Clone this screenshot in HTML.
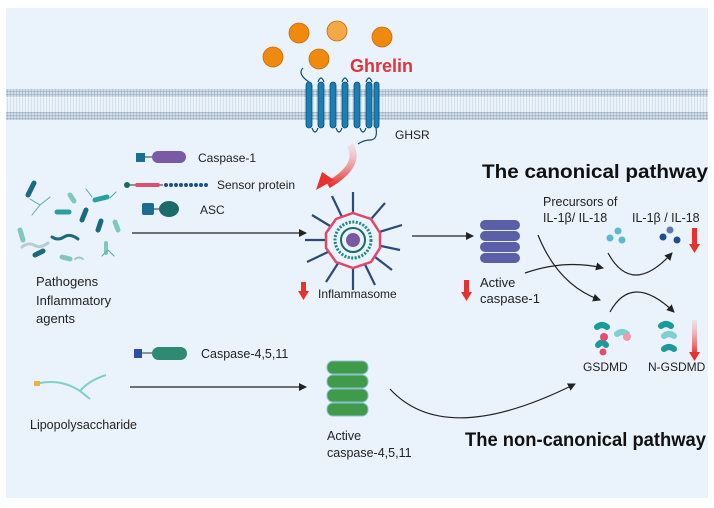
<!DOCTYPE html>
<html><head><meta charset="utf-8"><style>
html,body{margin:0;padding:0;background:#fff;}
svg{display:block;font-family:"Liberation Sans",sans-serif;}
</style></head><body>
<svg width="714" height="508" viewBox="0 0 714 508">
<defs>
<marker id="ah" markerWidth="8" markerHeight="8" refX="7" refY="4" orient="auto" markerUnits="userSpaceOnUse"><path d="M0,0 L8,4 L0,8 z" fill="#222"/></marker>
<linearGradient id="rg" x1="0" y1="0" x2="0" y2="1"><stop offset="0" stop-color="#f5b8b8" stop-opacity="0.3"/><stop offset="1" stop-color="#e8322f"/></linearGradient>
<pattern id="dots" width="3" height="3" patternUnits="userSpaceOnUse"><circle cx="1.5" cy="1.5" r="1.3" fill="#9fb1c4"/></pattern>
<pattern id="tails" width="3" height="10" patternUnits="userSpaceOnUse"><rect x="1" y="0" width="1" height="10" fill="#d4dfea"/></pattern>
</defs>
<rect x="6" y="8" width="702" height="490" fill="#eaf2fb"/>
<rect x="6" y="98" width="702" height="14" fill="url(#tails)"/>
<rect x="6" y="89" width="702" height="8" fill="url(#dots)"/>
<rect x="6" y="112" width="702" height="8" fill="url(#dots)"/>
<g fill="#ef8a0f" stroke="#c66e06" stroke-width="0.8">
<circle cx="299" cy="33" r="10"/><circle cx="337" cy="31" r="10" fill="#f2a946"/><circle cx="382" cy="37" r="10"/><circle cx="273" cy="57" r="10"/><circle cx="319" cy="59" r="10"/>
</g>
<text x="350" y="72" font-size="18" font-weight="bold" fill="#e2333b">Ghrelin</text>
<g fill="#1a7fb3" stroke="#0d4d73" stroke-width="0.8">
<rect x="306" y="82" width="6" height="46" rx="3"/><rect x="318" y="82" width="6" height="46" rx="3"/><rect x="330" y="82" width="6" height="46" rx="3"/><rect x="342" y="82" width="6" height="46" rx="3"/><rect x="354" y="82" width="6" height="46" rx="3"/><rect x="366" y="82" width="6" height="46" rx="3"/><rect x="374" y="82" width="5" height="46" rx="2.5"/>
</g>
<path d="M303,68 q-6,6 6,14 M318,82 q3,-8 6,0 M342,82 q3,-8 6,0 M366,82 q3,-8 6,0 M312,128 q3,8 6,0 M336,128 q3,8 6,0 M360,128 q3,8 6,0 M376,128 q2,12 -6,12 q-6,0 -12,4" stroke="#0d4d73" stroke-width="1.2" fill="none"/>
<text x="395" y="139" font-size="12" fill="#222">GHSR</text>
<path d="M350,145 q12,20 -22,40" stroke="url(#rg)" stroke-width="7" fill="none"/>
<path d="M316,190 l18,-10 l-12,-8 z" fill="#e8322f"/>
<rect x="136" y="153" width="9" height="9" fill="#1a6e94"/><line x1="145" y1="157" x2="152" y2="157" stroke="#333"/><rect x="152" y="151" width="34" height="12" rx="6" fill="#7a5aa6"/>
<text x="198" y="162" font-size="12" fill="#222">Caspase-1</text>
<circle cx="127" cy="185" r="3" fill="#1b6b5a"/><line x1="130" y1="185" x2="135" y2="185" stroke="#333"/><rect x="135" y="183" width="25" height="4" rx="2" fill="#e24e6e"/><line x1="160" y1="185" x2="163" y2="185" stroke="#333"/>
<g fill="#1d4f8a"><circle cx="166" cy="185" r="2"/><circle cx="171" cy="185" r="2"/><circle cx="176" cy="185" r="2"/><circle cx="181" cy="185" r="2"/><circle cx="186" cy="185" r="2"/><circle cx="191" cy="185" r="2"/><circle cx="196" cy="185" r="2"/><circle cx="201" cy="185" r="2"/><circle cx="206" cy="185" r="2"/></g>
<text x="217" y="189" font-size="12" fill="#222">Sensor protein</text>
<rect x="142" y="203" width="12" height="12" rx="2" fill="#1a6e94"/><line x1="154" y1="209" x2="160" y2="209" stroke="#333"/><ellipse cx="169" cy="209" rx="10" ry="8" fill="#1a6b6a"/>
<text x="200" y="214" font-size="12" fill="#222">ASC</text>
<g stroke-linecap="round" fill="none">
<path d="M28,195 l6,-12" stroke="#1a6b80" stroke-width="5"/><path d="M57,212 l12,0" stroke="#2aa0a0" stroke-width="5"/><path d="M95,200 l12,-3" stroke="#2aa0a0" stroke-width="5"/><path d="M82,220 l4,-10" stroke="#1a6b80" stroke-width="5"/><path d="M98,230 l3,-9" stroke="#1a6b80" stroke-width="5"/><path d="M20,230 l3,10" stroke="#7ec8c0" stroke-width="5"/><path d="M70,195 l4,6" stroke="#7ec8c0" stroke-width="5"/><path d="M115,222 l3,8" stroke="#7ec8c0" stroke-width="5"/><path d="M35,255 l8,-4" stroke="#1a6b80" stroke-width="5"/><path d="M62,257 l8,2" stroke="#7ec8c0" stroke-width="5"/><path d="M106,243 l0,10" stroke="#7ec8c0" stroke-width="4"/>
<path d="M22,247 q6,-5 12,-2 q6,4 14,-2" stroke="#b8cdd2" stroke-width="3"/><path d="M52,237 q6,4 12,0 q6,-4 14,2" stroke="#1a6b80" stroke-width="3"/><path d="M75,259 q4,-3 8,0" stroke="#9cb" stroke-width="2"/>
<path d="M40,205 l-10,-6 M40,205 l10,-8 M40,205 l-8,10 M92,197 l-6,-8 M110,198 l6,-6 M108,250 l-6,6 M108,250 l6,6" stroke="#5aa" stroke-width="1"/>
</g>
<line x1="132" y1="233" x2="306" y2="233" stroke="#222" stroke-width="1.2" marker-end="url(#ah)"/>
<text font-size="13" fill="#222"><tspan x="36" y="286">Pathogens</tspan><tspan x="36" y="305">Inflammatory</tspan><tspan x="36" y="323">agents</tspan></text>
<g stroke="#2c4a78" stroke-width="2.2">
<line x1="353" y1="240" x2="353" y2="192"/><line x1="353" y1="240" x2="385" y2="203"/><line x1="353" y1="240" x2="402" y2="225"/><line x1="353" y1="240" x2="400" y2="250"/><line x1="353" y1="240" x2="392" y2="270"/><line x1="353" y1="240" x2="375" y2="285"/><line x1="353" y1="240" x2="353" y2="290"/><line x1="353" y1="240" x2="326" y2="282"/><line x1="353" y1="240" x2="307" y2="262"/><line x1="353" y1="240" x2="305" y2="240"/><line x1="353" y1="240" x2="312" y2="215"/><line x1="353" y1="240" x2="332" y2="196"/>
</g>
<polygon points="353,213 371,219 380,233 380,248 371,262 353,268 336,262 326,248 326,233 336,219" fill="#eaf2fb" stroke="#e2466a" stroke-width="2.5"/>
<circle cx="353" cy="240" r="18" fill="none" stroke="#1a8a80" stroke-width="3" stroke-dasharray="2 1.5"/>
<circle cx="353" cy="240" r="12" fill="#eaf2fb" stroke="#1a6b6a" stroke-width="2"/>
<circle cx="353" cy="240" r="7" fill="#7a5aa6"/>
<rect x="301" y="282" width="5" height="10" fill="#e8322f"/><path d="M298,291 l5.5,9 l5.5,-9z" fill="#e8322f"/>
<text x="318" y="298" font-size="12" fill="#222">Inflammasome</text>
<line x1="412" y1="236" x2="473" y2="236" stroke="#222" stroke-width="1.2" marker-end="url(#ah)"/>
<g fill="#5b5fa8"><rect x="480" y="220" width="40" height="10" rx="5"/><rect x="480" y="231" width="40" height="10" rx="5"/><rect x="480" y="242" width="40" height="10" rx="5"/><rect x="480" y="253" width="40" height="10" rx="5"/></g>
<rect x="464" y="280" width="5" height="14" fill="#e8322f"/><path d="M461,292 l5.5,9 l5.5,-9z" fill="#e8322f"/>
<text font-size="13" fill="#222"><tspan x="480" y="287">Active</tspan><tspan x="480" y="303">caspase-1</tspan></text>
<text x="482" y="178" font-size="19" font-weight="bold" fill="#111" textLength="226" lengthAdjust="spacingAndGlyphs">The canonical pathway</text>
<text font-size="12.5" fill="#222"><tspan x="543" y="206">Precursors of</tspan><tspan x="543" y="222">IL-1β/ IL-18</tspan><tspan x="632" y="222">IL-1β / IL-18</tspan></text>
<g fill="#5bb8d0"><circle cx="610" cy="238" r="3.5"/><circle cx="618" cy="231" r="3.5"/><circle cx="622" cy="240" r="3.5"/></g>
<g fill="#1d4f8a"><circle cx="663" cy="237" r="3.5"/><circle cx="670" cy="230" r="3.5" fill="#5b7ab0"/><circle cx="677" cy="240" r="3.5"/></g>
<rect x="692" y="228" width="5" height="18" fill="#e8322f"/><path d="M689,244 l5.5,9 l5.5,-9z" fill="#e8322f"/>
<path d="M538,235 q20,50 62,65" stroke="#222" stroke-width="1.2" fill="none" marker-end="url(#ah)"/>
<path d="M525,273 q40,-14 78,-5" stroke="#222" stroke-width="1.2" fill="none" marker-end="url(#ah)"/>
<path d="M608,253 q24,44 64,0" stroke="#222" stroke-width="1.2" fill="none" marker-end="url(#ah)"/>
<path d="M610,312 q22,-40 64,0" stroke="#222" stroke-width="1.2" fill="none" marker-end="url(#ah)"/>
<g stroke-linecap="round" fill="none" stroke-width="6">
<path d="M597,327 q5,-4 10,0" stroke="#1a9a9a"/><path d="M617,334 q5,-4 10,0" stroke="#7ecfd0"/><path d="M598,345 q4,-5 8,0" stroke="#1a9a9a"/><path d="M661,326 q5,-4 10,0" stroke="#1a9a9a"/><path d="M664,336 q5,-4 10,0" stroke="#7ecfd0"/><path d="M664,349 q5,-4 10,0" stroke="#1a9a9a"/>
</g>
<circle cx="604" cy="337" r="4" fill="#e84a6e"/><circle cx="627" cy="337" r="4" fill="#f29aaa"/><circle cx="603" cy="352" r="3.5" fill="#e84a6e"/>
<rect x="692" y="320" width="5" height="34" fill="url(#rg)"/><path d="M689,352 l5.5,9 l5.5,-9z" fill="#e8322f"/>
<text x="583" y="371" font-size="12" fill="#222">GSDMD</text>
<text x="648" y="371" font-size="12" fill="#222">N-GSDMD</text>
<rect x="34" y="381" width="6" height="5" fill="#f0b040"/><path d="M40,383 q22,-4 40,8 q8,-10 26,-16 M80,391 l10,8" stroke="#7fd0c8" stroke-width="2" fill="none"/>
<text x="30" y="429" font-size="12.5" fill="#222">Lipopolysaccharide</text>
<rect x="134" y="349" width="8" height="9" fill="#2a4fa8"/><line x1="142" y1="353" x2="152" y2="353" stroke="#333"/><rect x="152" y="347" width="35" height="13" rx="6.5" fill="#2e8a70"/>
<text x="201" y="358" font-size="12.5" fill="#222">Caspase-4,5,11</text>
<line x1="130" y1="387" x2="306" y2="387" stroke="#222" stroke-width="1.2" marker-end="url(#ah)"/>
<g fill="#3f9a4a" stroke="#8cc0d0" stroke-width="1"><rect x="327" y="361" width="41" height="13" rx="6"/><rect x="327" y="375" width="41" height="13" rx="6"/><rect x="327" y="389" width="41" height="13" rx="6"/><rect x="327" y="403" width="41" height="13" rx="6"/></g>
<text font-size="12.5" fill="#222"><tspan x="327" y="440">Active</tspan><tspan x="327" y="457">caspase-4,5,11</tspan></text>
<path d="M390,389 q55,60 185,-5" stroke="#222" stroke-width="1.2" fill="none" marker-end="url(#ah)"/>
<text x="465" y="446" font-size="19" font-weight="bold" fill="#111" textLength="241" lengthAdjust="spacingAndGlyphs">The non-canonical pathway</text>
</svg>
</body></html>
